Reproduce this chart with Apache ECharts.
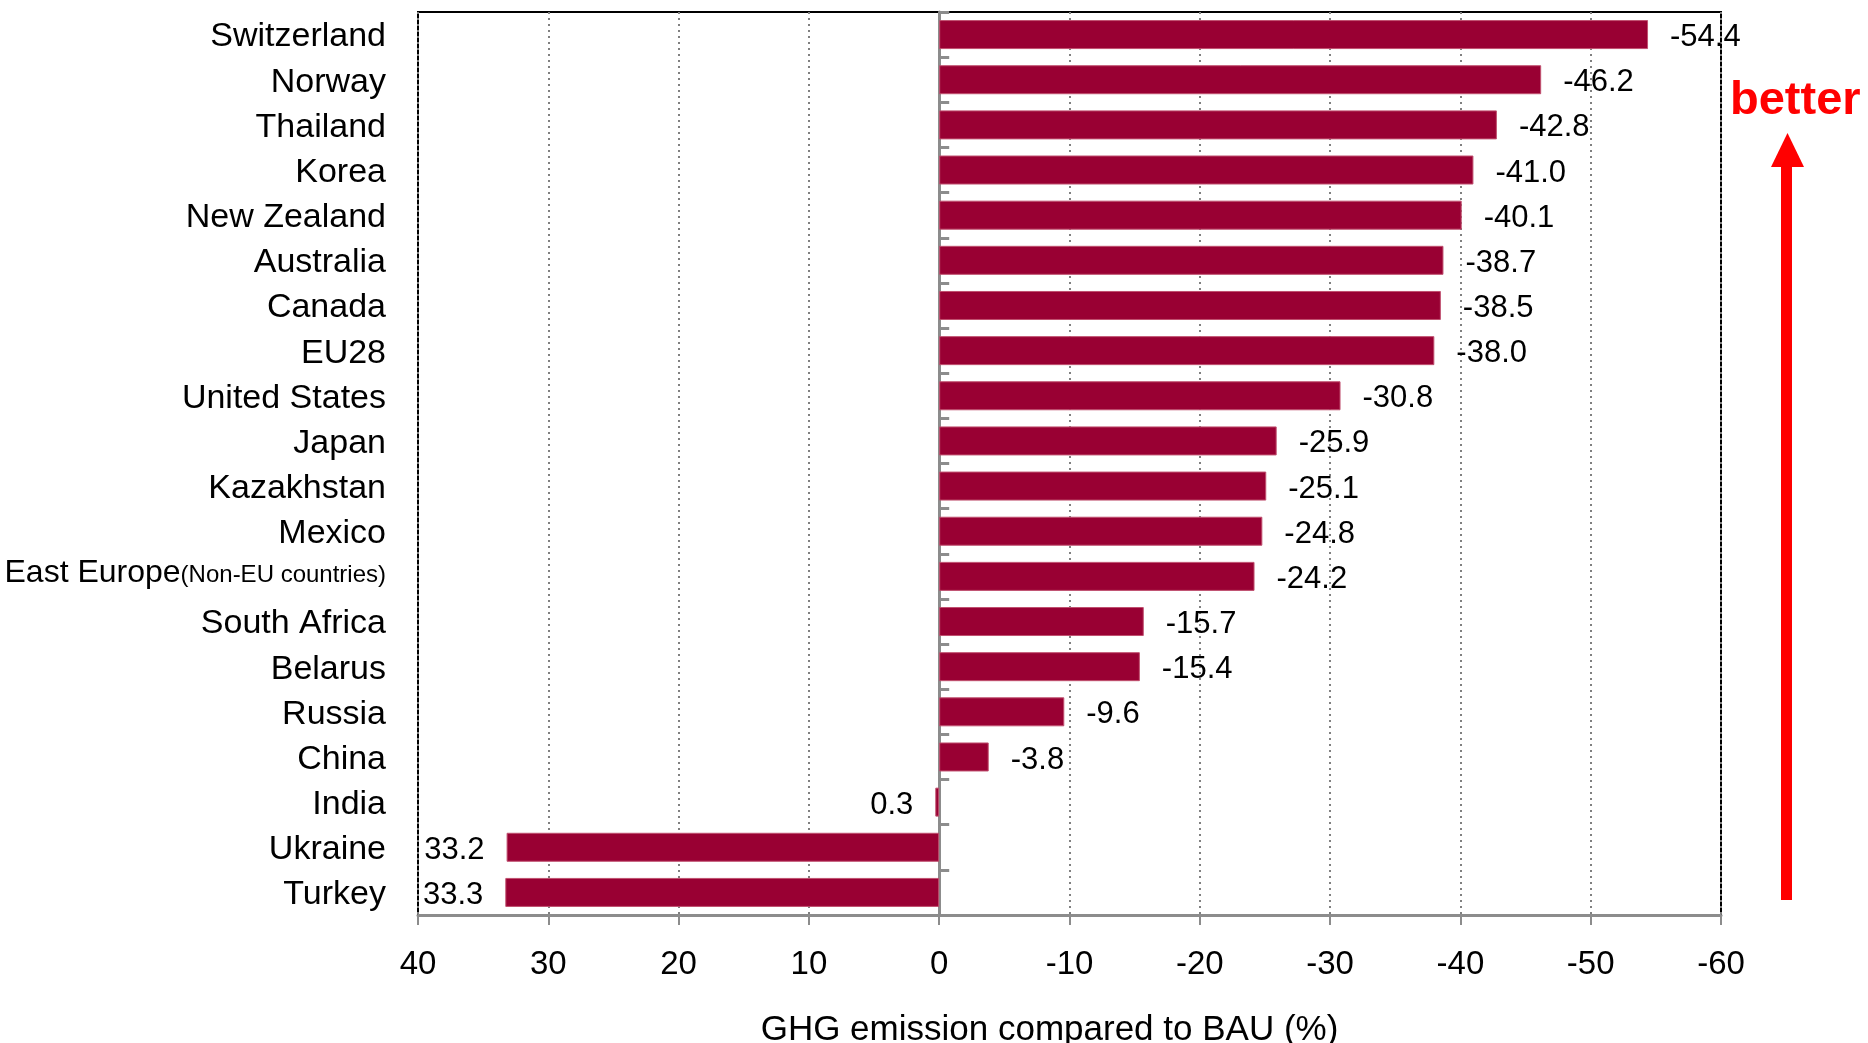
<!DOCTYPE html>
<html>
<head>
<meta charset="utf-8">
<script src="https://cdn.jsdelivr.net/npm/echarts@6/dist/echarts.min.js"></script>
<style>
html,body{margin:0;padding:0;background:#fff;}
#chart{width:1868px;height:1043px;}
</style>
</head>
<body>
<div id="chart"></div>
<script>
const categories = ['Switzerland','Norway','Thailand','Korea','New Zealand','Australia','Canada','EU28','United States','Japan','Kazakhstan','Mexico','East Europe','South Africa','Belarus','Russia','China','India','Ukraine','Turkey'];
const values = [-54.4,-46.2,-42.8,-41.0,-40.1,-38.7,-38.5,-38.0,-30.8,-25.9,-25.1,-24.8,-24.2,-15.7,-15.4,-9.6,-3.8,0.3,33.2,33.3];
const xTicks = { min: -60, max: 40, interval: 10 };
const axisTitle = 'GHG emission compared to BAU (%)';
const eastEuropeNote = '(Non-EU countries)';
const annotationText = 'better';

const FONT = 'Liberation Sans, Arial, sans-serif';
const barColor = '#990033';

const chart = echarts.init(document.getElementById('chart'), null, {renderer: 'canvas'});

const seriesData = values.map(v => ({
  value: v,
  label: { position: v < 0 ? 'right' : 'left' }
}));

const option = {
  backgroundColor: '#ffffff',
  animation: false,
  grid: {
    left: 418, right: 147, top: 12, bottom: 128,
    containLabel: false,
    outerBoundsMode: 'none',
    show: true, borderColor: '#000', borderWidth: 2, backgroundColor: 'transparent'
  },
  xAxis: {
    type: 'value',
    inverse: true,
    min: xTicks.min, max: xTicks.max, interval: xTicks.interval,
    axisLine: { show: true, onZero: false, lineStyle: { color: '#8c8c8c', width: 3 } },
    axisTick: { show: true, length: 10, lineStyle: { color: '#8c8c8c', width: 2 } },
    axisLabel: { color: '#000', fontFamily: FONT, fontSize: 33, margin: 33 },
    splitLine: { show: true, lineStyle: { color: '#808080', width: 2, type: [2, 4] } },
    name: axisTitle,
    nameLocation: 'middle',
    nameGap: 98,
    nameTextStyle: { color: '#000', fontFamily: FONT, fontSize: 35, padding: [0, 40, 0, 0] }
  },
  yAxis: [
    {
      type: 'category',
      data: categories,
      inverse: true,
      axisLine: { show: false, onZero: false },
      axisTick: { show: false },
      splitLine: { show: false },
      axisLabel: {
        color: '#000', fontFamily: FONT, fontSize: 34, margin: 32,
        padding: [5, 0, 0, 0],
        formatter: function (v) {
          if (v === 'East Europe') return '{a|East Europe}{b|' + eastEuropeNote + '}';
          return v;
        },
        rich: {
          a: { fontFamily: FONT, fontSize: 32, color: '#000', padding: [0, 0, 12, 0] },
          b: { fontFamily: FONT, fontSize: 24, color: '#000', verticalAlign: 'bottom', padding: [0, 0, 14, 0] }
        }
      }
    },
    {
      type: 'category',
      data: categories,
      inverse: true,
      position: 'left',
      axisLine: { show: true, onZero: true, lineStyle: { color: '#8c8c8c', width: 3 } },
      axisTick: { show: true, inside: true, length: 10, lineStyle: { color: '#8c8c8c', width: 3 } },
      axisLabel: { show: false },
      splitLine: { show: false }
    }
  ],
  series: [{
    type: 'bar',
    yAxisIndex: 0,
    data: seriesData,
    barWidth: 29,
    itemStyle: { color: barColor, borderColor: '#c0506f', borderWidth: 1 },
    label: {
      show: true,
      distance: 22,
      offset: [0, 3],
      color: '#000',
      fontFamily: FONT,
      fontSize: 31,
      formatter: p => p.value.toFixed(1)
    },
    z: 3
  }],
  graphic: [
    {
      type: 'text',
      left: 1730, top: 78,
      style: { text: annotationText, fill: '#ff0000', font: 'bold 47px ' + FONT }
    },
    {
      type: 'rect',
      shape: { x: 1781, y: 165, width: 11, height: 735 },
      style: { fill: '#ff0000' }
    },
    {
      type: 'polygon',
      shape: { points: [[1771, 167], [1804, 167], [1787.5, 133]] },
      style: { fill: '#ff0000' }
    }
  ]
};

chart.setOption(option);
</script>
</body>
</html>
